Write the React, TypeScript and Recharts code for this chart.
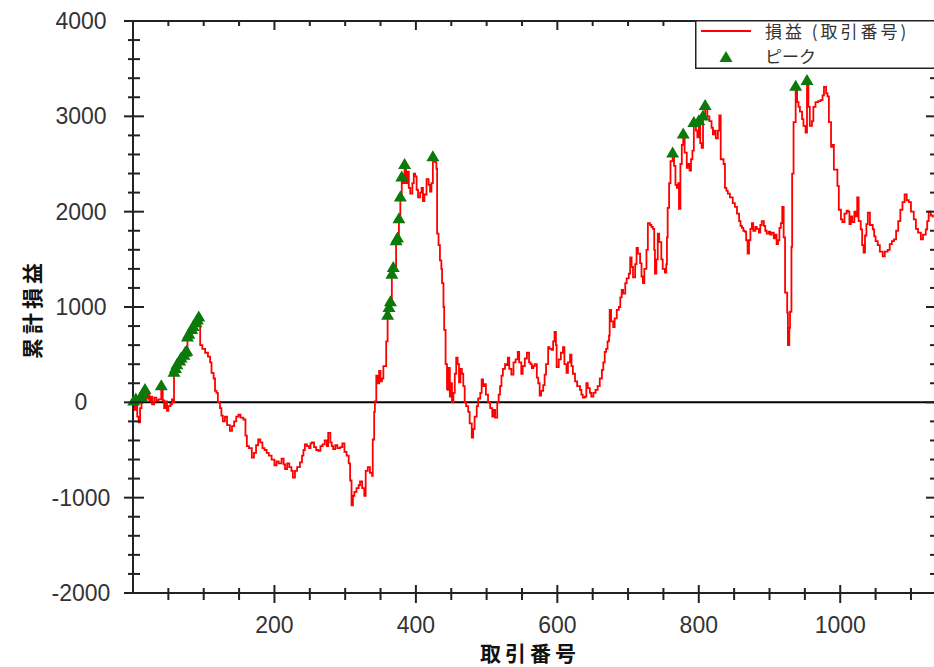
import { ComposedChart, Line, Scatter, XAxis, YAxis, ReferenceLine, Legend } from 'recharts'

// cumulative P&L by trade number
const tradeNo = [
  0, 1, 2, 4, 6, 8, 10, 12, 14, 17,
  19, 21, 23, 25, 27, 30, 33, 36, 40, 42,
  44, 46, 48, 50, 53, 55, 57, 58, 60, 62,
  64, 66, 68, 70, 72, 74, 76, 77, 79, 81,
  83, 85, 87, 89, 91, 93, 95, 98, 102, 106,
  109, 111, 114, 116, 118, 120, 123, 125, 127, 130,
  133, 137, 140, 143, 146, 149, 152, 156, 159, 161,
  164, 168, 171, 174, 177, 180, 183, 186, 189, 192,
  196, 200, 203, 206, 210, 213, 215, 218, 221, 224,
  226, 229, 232, 236, 239, 241, 243, 246, 249, 251,
  253, 256, 259, 262, 265, 268, 271, 274, 276, 279,
  281, 283, 286, 289, 293, 296, 299, 302, 305, 307,
  309, 311, 313, 316, 319, 321, 324, 327, 329, 332,
  335, 338, 339, 341, 342, 344, 346, 348, 350, 352,
  354, 356, 358, 360, 362, 364, 366, 368, 370, 372,
  374, 376, 378, 380, 382, 384, 386, 388, 390, 392,
  395, 397, 399, 401, 403, 406, 408, 410, 412, 415,
  418, 420, 422, 424, 427, 429, 430, 432, 434, 436,
  437, 439, 440, 442, 444, 445, 446, 448, 450, 451,
  453, 455, 457, 459, 461, 463, 465, 467, 469, 471,
  474, 476, 479, 481, 483, 486, 488, 491, 493, 495,
  497, 499, 502, 505, 508, 510, 512, 515, 517, 519,
  521, 523, 526, 528, 530, 532, 535, 538, 541, 544,
  546, 549, 551, 554, 557, 560, 562, 564, 566, 568,
  571, 573, 575, 577, 580, 582, 584, 587, 589, 592,
  594, 596, 598, 599, 602, 605, 608, 610, 613, 615,
  618, 620, 622, 625, 628, 632, 634, 636, 639, 641,
  643, 646, 648, 651, 654, 657, 660, 663, 665, 667,
  669, 671, 673, 674, 676, 679, 681, 684, 687, 689,
  691, 693, 696, 698, 701, 703, 705, 707, 710, 712,
  714, 717, 719, 721, 723, 726, 728, 731, 733, 735,
  737, 738, 740, 742, 744, 747, 749, 752, 754, 755,
  756, 758, 760, 763, 765, 767, 769, 771, 772, 774,
  776, 778, 780, 783, 785, 787, 789, 791, 793, 796,
  798, 800, 802, 804, 806, 809, 812, 815, 818, 820,
  822, 824, 827, 829, 831, 835, 837, 839, 841, 844,
  848, 851, 854, 857, 859, 861, 863, 865, 867, 869,
  871, 873, 875, 877, 880, 882, 885, 887, 889, 892,
  894, 896, 899, 901, 903, 906, 908, 910, 912, 914,
  916, 918, 920, 922, 925, 926, 928, 929, 931, 932,
  934, 937, 939, 941, 943, 946, 948, 951, 953, 955,
  957, 960, 962, 965, 969, 972, 975, 977, 980, 982,
  984, 987, 989, 991, 996, 998, 1001, 1003, 1006, 1009,
  1011, 1013, 1015, 1017, 1020, 1022, 1024, 1026, 1029, 1031,
  1033, 1035, 1037, 1039, 1042, 1046, 1048, 1050, 1053, 1056,
  1060, 1063, 1067, 1070, 1073, 1076, 1079, 1082, 1085, 1088,
  1091, 1094, 1097, 1100, 1104, 1107, 1110, 1114, 1117, 1121,
  1123, 1125, 1128, 1131,
]

const cumPnl = [
  0, 20, -80, 40, -150, -210, -60, 60, 100, 140,
  40, 90, 10, 60, -20, 50, 20, 30, 180, 20,
  -60, 10, -90, -40, -20, 30, 0, 320, 360, 400,
  380, 440, 470, 430, 500, 530, 540, 690, 720, 700,
  770, 800, 760, 840, 870, 900, 600, 560, 520, 480,
  420, 310, 250, 120, 100, 0, -60, -140, -200, -150,
  -240, -300, -250, -200, -150, -130, -160, -180, -350, -460,
  -480, -580, -530, -450, -390, -420, -480, -500, -530, -560,
  -600, -660, -620, -640, -590, -650, -700, -640, -680, -720,
  -790, -720, -680, -630, -560, -500, -440, -460, -480, -430,
  -420, -470, -500, -510, -460, -440, -400, -460, -320, -420,
  -460, -490, -450, -480, -470, -430, -520, -560, -640, -820,
  -1080, -980, -940, -900, -870, -830, -900, -980, -720, -680,
  -740, -770, -390, -100, 10, 280, 200, 330, 220, 250,
  380, 380, 640, 920, 1000, 1060, 1350, 1420, 1390, 1700,
  1730, 1930, 2160, 2370, 2300, 2500, 2300, 2420, 2250, 2190,
  2300, 2400, 2370, 2230, 2150, 2200, 2250, 2110, 2180, 2340,
  2280, 2210, 2300, 2580, 2520, 2450, 1770, 1650, 1490, 1400,
  1250, 1000, 760, 400, 140, 130, 360, 60, 200, 0,
  100, 300, 470, 400, 210, 350, 300, 170, 0, -40,
  -100, -220, -370, -280, -150, -40, 40, 100, 240, 170,
  190, 80, 0, -60, -150, -80, -160, 0, 80, 170,
  280, 350, 400, 390, 470, 350, 290, 420, 450, 530,
  420, 300, 380, 460, 520, 420, 400, 360, 380, 400,
  260, 200, 70, 120, 180, 290, 400, 580, 560, 550,
  640, 740, 600, 370, 450, 520, 580, 400, 310, 420,
  500, 380, 300, 220, 170, 130, 80, 50, 60, 200,
  150, 100, 60, 100, 130, 170, 250, 340, 420, 530,
  560, 640, 700, 970, 850, 790, 880, 970, 1000, 1100,
  1180, 1140, 1250, 1300, 1350, 1520, 1420, 1310, 1450, 1620,
  1560, 1460, 1320, 1250, 1400, 1600, 1880, 1860, 1840, 1820,
  1600, 1350, 1500, 1770, 1680, 1500, 1400, 1360, 1450, 1730,
  2040, 2300, 2530, 2620, 2480, 2280, 2250, 2300, 2030, 2500,
  2700, 2820, 2620, 2460, 2500, 2430, 2550, 2640, 2940, 2850,
  2780, 2960, 2720, 2670, 3010, 3120, 3000, 2950, 2880, 2810,
  2850, 2770, 2850, 3010, 2550, 2500, 2250, 2220, 2190, 2150,
  2090, 2050, 1980, 1900, 1850, 1830, 1800, 1790, 1700, 1560,
  1700, 1820, 1880, 1800, 1840, 1820, 1780, 1860, 1900, 1850,
  1800, 1770, 1790, 1760, 1780, 1720, 1760, 1660, 1700, 1830,
  1880, 2050, 1730, 1150, 940, 600, 780, 950, 1630, 2400,
  2940, 3320, 3150, 3100, 3050, 2970, 2900, 2830, 3380, 3100,
  2900, 2950, 3100, 3150, 3160, 3170, 3220, 3310, 3240, 3210,
  2940, 2680, 2700, 2440, 2270, 2020, 1920, 1890, 1980, 2010,
  2000, 1870, 1950, 1890, 2000, 1950, 2150, 1900, 1815, 1650,
  1570, 1750, 1870, 1990, 1860, 1815, 1740, 1690, 1650, 1580,
  1530, 1580, 1600, 1660, 1690, 1710, 1800, 1900, 2020, 2100,
  2180, 2120, 2100, 2000, 1920, 1820, 1780, 1710, 1760, 1815,
  1900, 2000, 1960, 1940,
]

// new-high markers
const peakTradeNo = [
  1, 4, 12, 14, 17, 40,
  58, 60, 62, 66, 68, 72, 74, 76, 77, 79, 83, 85, 89, 91, 93,
  360, 362, 364, 366, 368, 372, 374, 376, 378, 380, 384, 424,
  763, 778, 793, 800, 806, 809,
  937, 953,
]
const peakPnl = [
  20, 40, 60, 100, 140, 180,
  320, 360, 400, 440, 470, 500, 530, 540, 690, 720, 770, 800, 840, 870, 900,
  920, 1000, 1060, 1350, 1420, 1700, 1730, 1930, 2160, 2370, 2500, 2580,
  2620, 2820, 2940, 2960, 3010, 3120,
  3320, 3380,
]

const xTicks = [
  50, 100, 150, 200, 250, 300, 350, 400, 450, 500, 550,
  600, 650, 700, 750, 800, 850, 900, 950, 1000, 1050, 1100,
]
const yTicks = [
  -2000, -1800, -1600, -1400, -1200, -1000, -800, -600, -400, -200,
  0, 200, 400, 600, 800, 1000, 1200, 1400, 1600, 1800,
  2000, 2200, 2400, 2600, 2800, 3000, 3200, 3400, 3600, 3800, 4000,
]

const pnlData = tradeNo.map((t, i) => ({ trade: t, pnl: cumPnl[i] }))
const peakData = peakTradeNo.map((t, i) => ({ trade: t, pnl: peakPnl[i] }))

const W = 940
const H = 667
const PLOT_LEFT = 133
const PLOT_TOP = 21
const PLOT_RIGHT = 935
const PLOT_BOTTOM = 593
const AXIS = '#222'
const TICK_FONT = '"Liberation Sans", Arial, sans-serif'
const CJK_FONT = '"Noto Sans CJK JP", sans-serif'

// eslint-disable-next-line @typescript-eslint/no-explicit-any
const XTick = (props: any) => {
  const { x, payload } = props
  const v = payload.value
  const major = v % 200 === 0
  return (
    <g>
      <line x1={x} x2={x} y1={PLOT_BOTTOM - (major ? 8 : 5)} y2={PLOT_BOTTOM + (major ? 10 : 7)} stroke={AXIS} strokeWidth={2} />
      <line x1={x} x2={x} y1={PLOT_TOP} y2={PLOT_TOP + (major ? 9 : 5)} stroke={AXIS} strokeWidth={2} />
      {major && (
        <text x={x} y={PLOT_BOTTOM + 40} textAnchor="middle" fontSize={23} fontFamily={TICK_FONT} fill="#333">
          {v}
        </text>
      )}
    </g>
  )
}

// eslint-disable-next-line @typescript-eslint/no-explicit-any
const YTick = (props: any) => {
  const { y, payload } = props
  const v = payload.value
  const major = v % 1000 === 0
  return (
    <g>
      <line x1={PLOT_LEFT - (major ? 9 : 5)} x2={PLOT_LEFT + (major ? 11 : 7)} y1={y} y2={y} stroke={AXIS} strokeWidth={2} />
      <line x1={PLOT_RIGHT - (major ? 9 : 5)} x2={PLOT_RIGHT} y1={y} y2={y} stroke={AXIS} strokeWidth={2} />
      {major && (
        <text x={81} y={y} dy={8} textAnchor="middle" fontSize={23} fontFamily={TICK_FONT} fill="#333">
          {v}
        </text>
      )}
    </g>
  )
}

// eslint-disable-next-line @typescript-eslint/no-explicit-any
const Triangle = (props: any) => {
  const { cx, cy, fill } = props
  if (cx == null || cy == null) return null
  return <polygon points={`${cx},${cy - 6} ${cx - 6.5},${cy + 5} ${cx + 6.5},${cy + 5}`} fill={fill} />
}

// eslint-disable-next-line @typescript-eslint/no-explicit-any
const renderLegend = (props: any) => {
  const { payload } = props
  const line = payload?.find((p: { type: string }) => p.type === 'line')
  const peak = payload?.find((p: { type: string }) => p.type !== 'line')
  return (
    <svg width={239} height={49} style={{ display: 'block' }}>
      <rect x={0.75} y={0.75} width={260} height={47.5} fill="#fff" stroke={AXIS} strokeWidth={1.5} />
      <line x1={6} x2={56} y1={11} y2={11} stroke={line?.color ?? '#ff0000'} strokeWidth={1.8} />
      <text x={70} y={18} fontSize={17} letterSpacing={3} fontFamily={CJK_FONT} fill="#333">
        {line?.value}
      </text>
      <polygon points="31,31 24.5,42 37.5,42" fill={peak?.color ?? '#0a7a0a'} />
      <text x={70} y={43} fontSize={17} fontFamily={CJK_FONT} fill="#333">
        {peak?.value}
      </text>
    </svg>
  )
}

export default function App() {
  return (
    <div style={{ position: 'fixed', left: 0, top: 0, width: 934, height: 667, overflow: 'hidden', background: '#fff' }}>
      <ComposedChart width={W} height={H} data={pnlData} margin={{ top: PLOT_TOP, right: W - PLOT_RIGHT, bottom: 0, left: 0 }}>
        <XAxis
          dataKey="trade"
          type="number"
          domain={[0, 1134]}
          ticks={xTicks}
          interval={0}
          height={H - PLOT_BOTTOM}
          axisLine={{ stroke: AXIS, strokeWidth: 2 }}
          tickLine={false}
          tick={<XTick />}
          label={(p: { viewBox: { x: number; width: number } }) => (
            <text
              x={p.viewBox.x + p.viewBox.width / 2 - 4}
              y={661}
              textAnchor="middle"
              fontSize={21}
              fontWeight="bold"
              letterSpacing={4}
              fontFamily={CJK_FONT}
              fill="#111"
            >
              取引番号
            </text>
          )}
        />
        <YAxis
          type="number"
          domain={[-2000, 4000]}
          ticks={yTicks}
          interval={0}
          width={PLOT_LEFT}
          axisLine={{ stroke: AXIS, strokeWidth: 2 }}
          tickLine={false}
          tick={<YTick />}
          label={(p: { viewBox: { y: number; height: number } }) => {
            const cy = p.viewBox.y + p.viewBox.height / 2 + 2
            return (
              <text
                x={31}
                y={cy}
                transform={`rotate(-90 31 ${cy})`}
                textAnchor="middle"
                dominantBaseline="central"
                fontSize={21}
                fontWeight="bold"
                letterSpacing={4}
                fontFamily={CJK_FONT}
                fill="#111"
              >
                累計損益
              </text>
            )
          }}
        />
        <ReferenceLine y={4000} stroke={AXIS} strokeWidth={2} />
        <ReferenceLine y={0} stroke="#000" strokeWidth={2} />
        <Scatter
          name="ピーク"
          data={peakData}
          dataKey="pnl"
          fill="#0a7a0a"
          shape={<Triangle />}
          legendType="triangle"
          isAnimationActive={false}
        />
        <Line
          name="損益 (取引番号)"
          dataKey="pnl"
          type="stepAfter"
          stroke="#ff0000"
          strokeWidth={1.8}
          dot={false}
          activeDot={false}
          legendType="line"
          isAnimationActive={false}
        />
        <Legend
          layout="vertical"
          align="center"
          verticalAlign="middle"
          content={renderLegend}
          wrapperStyle={{ left: 695, top: 20, width: 239, height: 49 }}
        />
      </ComposedChart>
    </div>
  )
}
